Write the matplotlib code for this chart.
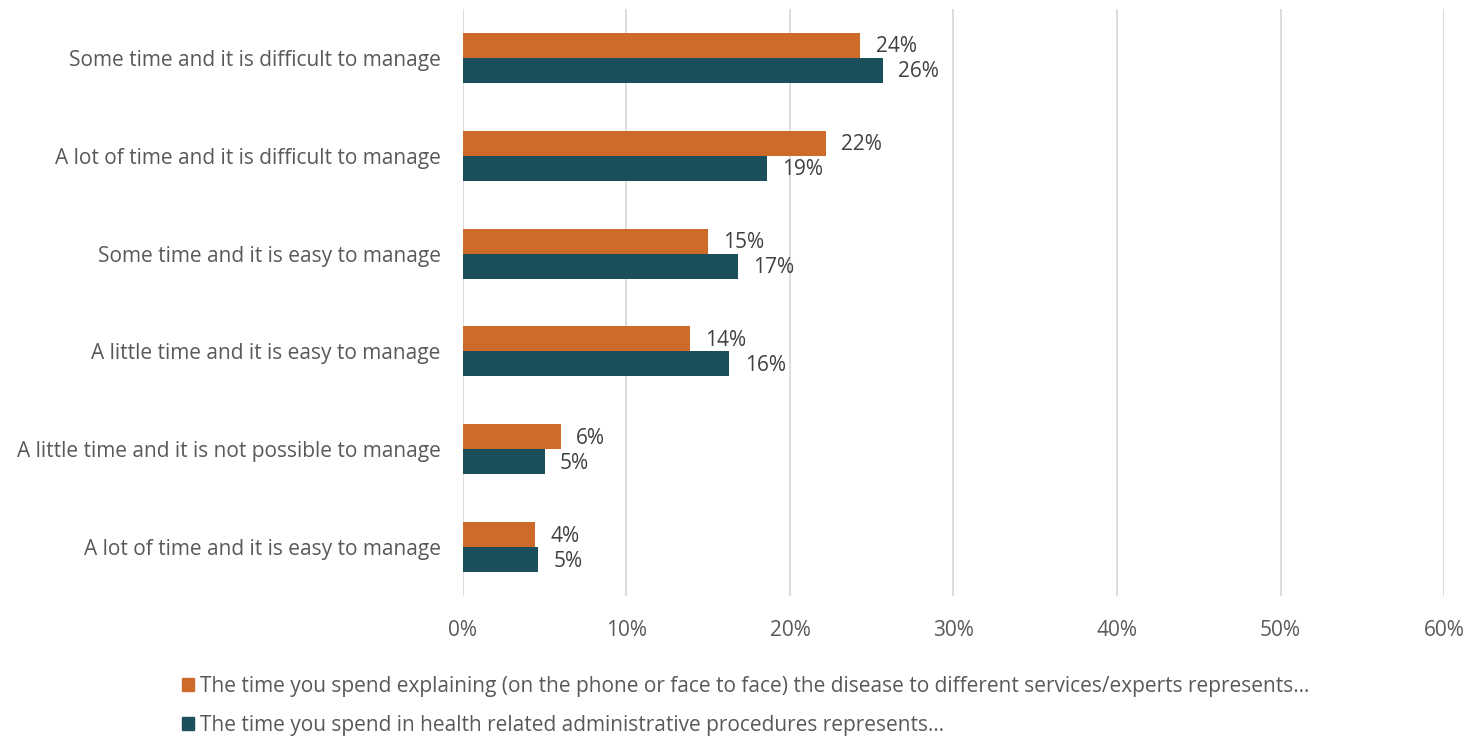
import matplotlib.pyplot as plt
import numpy as np
from matplotlib.patches import Patch
from matplotlib.ticker import PercentFormatter

plt.rcParams['font.family'] = ['Open Sans', 'DejaVu Sans']

categories = ['Some time and it is difficult to manage',
              'A lot of time and it is difficult to manage',
              'Some time and it is easy to manage',
              'A little time and it is easy to manage',
              'A little time and it is not possible to manage',
              'A lot of time and it is easy to manage']
explaining = [24.3, 22.2, 15.0, 13.9, 6.0, 4.4]
admin = [25.7, 18.6, 16.8, 16.3, 5.0, 4.6]
series_names = ['The time you spend explaining (on the phone or face to face) the disease to different services/experts represents...',
                'The time you spend in health related administrative procedures represents...']
colors = ['#CE6A2A', '#1B4F5C']

fig = plt.figure(figsize=(14.72, 7.36), dpi=100)
ax = fig.add_axes([0.3145, 0.19, 0.6665, 0.798])

y = np.arange(len(categories))
h = 0.255
b1 = ax.barh(y - h/2, explaining, height=h, color=colors[0], zorder=3)
b2 = ax.barh(y + h/2, admin, height=h, color=colors[1], zorder=3)

for bars, vals in [(b1, explaining), (b2, admin)]:
    for bar, v in zip(bars, vals):
        ax.annotate(f'{round(v):.0f}%', (bar.get_width(), bar.get_y() + bar.get_height()/2),
                    xytext=(11, -1), textcoords='offset points', ha='left', va='center',
                    fontsize=15, color='#404040')

ax.set_xlim(0, 60)
ax.set_ylim(len(categories) - 0.5, -0.5)
ax.set_xticks(np.arange(0, 61, 10))
ax.xaxis.set_major_formatter(PercentFormatter(decimals=0))
ax.set_yticks(y)
ax.set_yticklabels(categories)
ax.tick_params(axis='x', length=0, pad=17, labelsize=15, labelcolor='#595959')
ax.tick_params(axis='y', length=0, pad=16, labelsize=15, labelcolor='#595959')
ax.grid(axis='x', color='#D9D9D9', linewidth=1.3, zorder=0)
for s in ax.spines.values():
    s.set_visible(False)

handles = [Patch(color=c) for c in colors]
fig.legend(handles, series_names, loc='lower left', bbox_to_anchor=(0.111, -0.025),
           frameon=False, fontsize=15, labelcolor='#595959', handlelength=0.55,
           handleheight=0.55, handletextpad=0.3, labelspacing=0.85)

fig.savefig('out.png', dpi=100)
